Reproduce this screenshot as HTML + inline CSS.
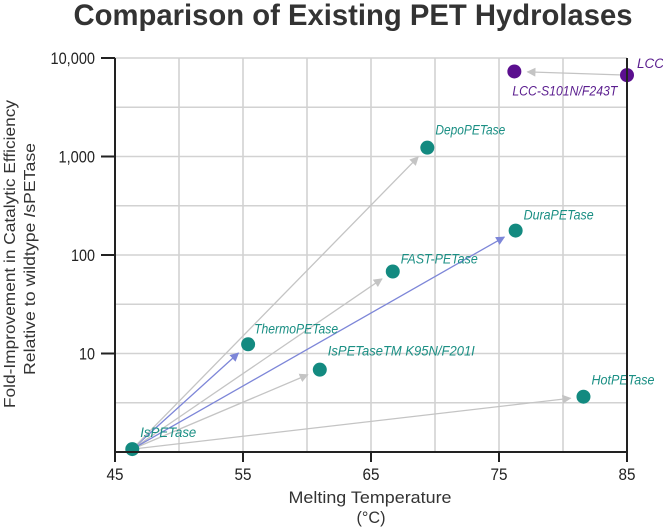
<!DOCTYPE html>
<html><head><meta charset="utf-8"><style>
html,body{margin:0;padding:0;background:#fff;}
svg{display:block;font-family:"Liberation Sans",sans-serif;}
</style></head><body>
<svg id="chart" width="663" height="528" viewBox="0 0 663 528" xmlns="http://www.w3.org/2000/svg">
<text x="353" y="25" text-anchor="middle" font-size="30" font-weight="bold" fill="#333" textLength="559" lengthAdjust="spacingAndGlyphs">Comparison of Existing PET Hydrolases</text>
<g id="grid"></g>
<g id="arrows"></g>
<g id="points"></g>
<g id="axes"></g>
<g font-size="16" fill="#333" text-anchor="middle">
<text transform="translate(15,254) rotate(-90)" textLength="308" lengthAdjust="spacingAndGlyphs">Fold-Improvement in Catalytic Efficiency</text>
<text transform="translate(35,259) rotate(-90)" textLength="232" lengthAdjust="spacingAndGlyphs">Relative to wildtype <tspan font-style="italic">I</tspan>sPETase</text>
</g>
<g font-size="17" fill="#333" text-anchor="middle">
<text x="370" y="503" textLength="163" lengthAdjust="spacingAndGlyphs">Melting Temperature</text>
<text x="371" y="523" textLength="29" lengthAdjust="spacingAndGlyphs">(°C)</text>
</g>
</svg>
<script>
const names = ["IsPETase","ThermoPETase","IsPETaseTM K95N/F201I","FAST-PETase","DepoPETase","DuraPETase","HotPETase","LCC-S101N/F243T","LCC"];
const meltTemp = [46.35,55.4,61.0,66.7,69.4,76.3,81.6,76.2,85.0];
const foldImprovement = [1.07,12.4,6.85,68,1230,177,3.64,7300,6700];
const groups = ["is","is","is","is","is","is","is","lcc","lcc"];
const arrowFrom = [0,0,0,0,0,0,8];
const arrowTo = [1,2,3,4,5,6,7];
const arrowBlue = [true,false,false,false,true,false,false];
const xTicks = [45,55,65,75,85];
const yTicks = [1,10,100,1000,10000];
const yTickLabels = ["","10","100","1,000","10,000"];
const labelDx = [8,6,8,8,8,8,8,-2,10];
const labelDy = [-12,-11,-14,-8,-13,-11,-12,24,-7];

const NS="http://www.w3.org/2000/svg";
const X0=115,X1=627,Y0=452,Y1=58;
const xs=v=>X0+(v-45)/(85-45)*(X1-X0);
const ys=v=>Y0-(Math.log10(v)-0)/4*(Y0-Y1);
function mk(t,a,p){const e=document.createElementNS(NS,t);for(const k in a)e.setAttribute(k,a[k]);p.appendChild(e);return e;}
const grid=document.getElementById('grid'),axes=document.getElementById('axes'),arrows=document.getElementById('arrows'),pts=document.getElementById('points');
for(let t=45;t<=85;t+=5){const l=mk('line',{x1:xs(t),x2:xs(t),y1:Y1,y2:Y0,stroke:'#d2d2d2','stroke-width':1.6},grid);

}
for(let d=0;d<=4;d+=0.5){const y=Y0-d/4*(Y0-Y1);const l=mk('line',{x1:X0,x2:X1,y1:y,y2:y,stroke:'#d2d2d2','stroke-width':1.6},grid);

}
mk('path',{d:`M${X0},${Y1}V${Y0}H${X1}V${Y1}`,fill:'none',stroke:'#222','stroke-width':2},axes);
xTicks.forEach(t=>{mk('line',{x1:xs(t),x2:xs(t),y1:Y0,y2:Y0+10,stroke:'#222','stroke-width':2},axes);
const s=String(t);
const tx=mk('text',{x:xs(t),y:480,'text-anchor':'middle','font-size':17,fill:'#222',textLength:s.length*8.5,lengthAdjust:'spacingAndGlyphs'},axes);tx.textContent=s;

});
yTicks.forEach((t,i)=>{if(!yTickLabels[i])return;const y=ys(t);mk('line',{x1:X0-14,x2:X0,y1:y,y2:y,stroke:'#222','stroke-width':2},axes);
const s=yTickLabels[i];const digits=s.replace(/,/g,'').length,commas=s.length-digits;
const tx=mk('text',{x:X0-20,y:y+6,'text-anchor':'end','font-size':17,fill:'#222',textLength:digits*8+commas*4.5,lengthAdjust:'spacingAndGlyphs'},axes);tx.textContent=s;

});
const defs=mk('defs',{},document.getElementById('chart'));
[['hg','#c4c4c4'],['hb','#7d86d8']].forEach(([id,c])=>{const m=mk('marker',{id,viewBox:'0 0 10 10',refX:9,refY:5,markerWidth:9,markerHeight:9,markerUnits:'userSpaceOnUse',orient:'auto'},defs);mk('path',{d:'M0,0L10,5L0,10z',fill:c},m);});
arrowFrom.forEach((f,i)=>{const t=arrowTo[i];const x1=xs(meltTemp[f]),y1=ys(foldImprovement[f]),x2=xs(meltTemp[t]),y2=ys(foldImprovement[t]);
const dx=x2-x1,dy=y2-y1,L=Math.hypot(dx,dy),s=(L-13)/L;
const l=mk('line',{x1,y1,x2:x1+dx*s,y2:y1+dy*s,stroke:arrowBlue[i]?'#7d86d8':'#c4c4c4','stroke-width':1.3,'marker-end':arrowBlue[i]?'url(#hb)':'url(#hg)'},arrows);

});
names.forEach((n,i)=>{const x=xs(meltTemp[i]),y=ys(foldImprovement[i]);const col=groups[i]==='lcc'?'#5b0f8f':'#138a80';const tc=groups[i]==='lcc'?'#5b1e8f':'#1b8f84';
const c=mk('circle',{cx:x,cy:y,r:7,fill:col},pts);


const attrs={x:x+labelDx[i],y:y+labelDy[i],'font-size':13.5,'font-style':'italic',fill:tc};
if(n.length>=5){attrs.textLength=n.length*7;attrs.lengthAdjust='spacingAndGlyphs';}
const t=mk('text',attrs,pts);t.textContent=n;

});
</script>
</body></html>
